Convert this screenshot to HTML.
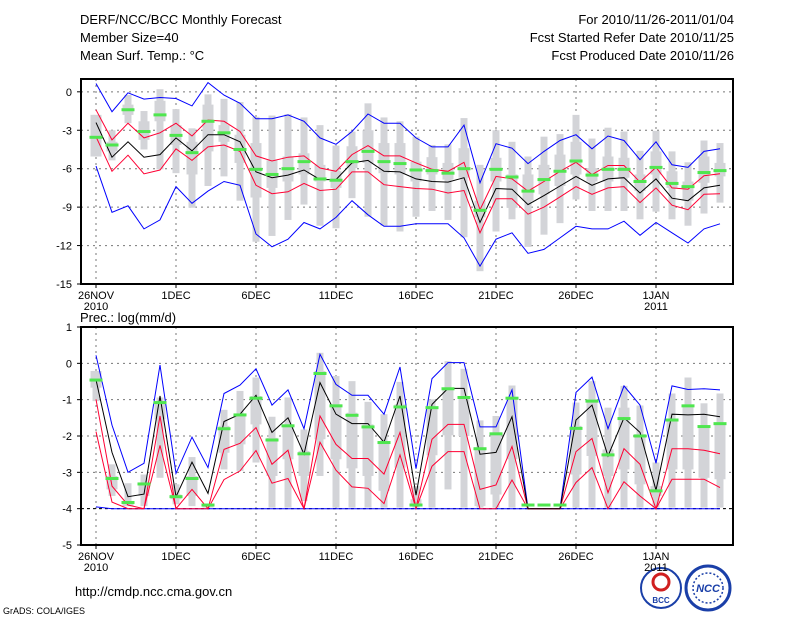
<!DOCTYPE html>
<html><head><meta charset="utf-8"><style>
body{margin:0;background:#fff;}
svg{display:block;font-family:"Liberation Sans",sans-serif;}
</style></head><body>
<svg id="chart" width="800" height="618" viewBox="0 0 800 618" xmlns="http://www.w3.org/2000/svg">
<rect width="800" height="618" fill="#fff"/>
<g id="hdr" font-size="13" fill="#000">
<text x="80" y="24">DERF/NCC/BCC Monthly Forecast</text>
<text x="80" y="42">Member Size=40</text>
<text x="80" y="60">Mean Surf. Temp.: °C</text>
<text x="734" y="24" text-anchor="end">For 2010/11/26-2011/01/04</text>
<text x="734" y="42" text-anchor="end">Fcst Started Refer Date 2010/11/25</text>
<text x="734" y="60" text-anchor="end">Fcst Produced Date 2010/11/26</text>
<text x="80" y="322">Prec.: log(mm/d)</text>
<text x="75" y="596">http://cmdp.ncc.cma.gov.cn</text>
<text x="3" y="614" font-size="9">GrADS: COLA/IGES</text>
</g>
<g>
<circle cx="661" cy="588" r="20" fill="#fff" stroke="#1a3fa8" stroke-width="2"/>
<circle cx="661" cy="582" r="8" fill="none" stroke="#d02020" stroke-width="3"/>
<text x="661" y="603" font-size="8" font-weight="bold" text-anchor="middle" fill="#1a3fa8">BCC</text>
</g>
<g>
<circle cx="708" cy="588" r="22" fill="#fff" stroke="#1a3fa8" stroke-width="3"/>
<circle cx="708" cy="588" r="15" fill="none" stroke="#1a3fa8" stroke-width="1.5" stroke-dasharray="2 2"/>
<text x="708" y="592" font-size="11" font-style="italic" font-weight="bold" text-anchor="middle" fill="#1a3fa8">NCC</text>
</g>
</svg>
<script>
// ---- temperature panel data ----
const days = 40;
const tMax = [0.65,-1.55,-0.08,-0.57,-0.44,-0.52,-1.1,0.72,-0.26,-0.9,-2.1,-2.1,-1.8,-2.3,-3.6,-4.1,-3.1,-1.73,-2.45,-2.45,-3.6,-4.3,-4.3,-2.6,-7.1,-4.05,-4.4,-5.6,-4.65,-3.8,-3.35,-4.45,-3.45,-3.8,-5.3,-3.9,-5.7,-5.9,-4.65,-4.45];
const tMin = [-5.8,-9.4,-8.9,-10.7,-10,-7.4,-8.7,-7.75,-7,-7.3,-11.1,-12.1,-11.5,-10.2,-10.7,-9.8,-8.5,-9.6,-10.5,-10.5,-10.3,-10.3,-10.3,-11.4,-13.6,-11.5,-11,-12.6,-12.3,-11.4,-10.5,-10.7,-10.7,-10.1,-11.2,-10.2,-11,-11.8,-10.7,-10.3];
const tMean = [-2.4,-5.1,-3.9,-5.1,-4.9,-3.6,-4.6,-3.35,-3.35,-3.9,-6.25,-6.7,-6.5,-6.1,-6.85,-6.85,-5.55,-5.35,-6.2,-6.25,-6.8,-7,-7.05,-6.7,-10.2,-7.55,-7.6,-8.8,-8.1,-7.35,-6.6,-7.3,-6.8,-6.7,-7.9,-6.8,-8.3,-8.5,-7.5,-7.3];
const tUp = [-1.4,-3.75,-2.45,-3.6,-3.2,-2.45,-3.45,-2.2,-2.3,-3.1,-5,-5.4,-5.1,-5,-5.95,-6.2,-4.9,-4.2,-5,-5,-5.55,-6.05,-6.2,-5.5,-9.2,-6.6,-6.8,-7.75,-7,-6.2,-5.5,-6.45,-5.75,-5.75,-7.05,-5.9,-7.5,-7.6,-6.55,-6.4];
const tLo = [-3.5,-6.2,-4.95,-6.4,-6.1,-4.45,-5.35,-4.3,-4.15,-4.65,-7.3,-7.95,-7.8,-7.15,-7.7,-7.6,-6.25,-6.25,-7.25,-7.4,-7.55,-7.6,-7.9,-7.7,-11,-8.35,-8.35,-9.55,-9,-8.2,-7.4,-8,-7.5,-7.4,-8.65,-7.5,-8.85,-9.2,-8,-7.95];
const tObs = [-3.55,-4.15,-1.4,-3.1,-1.8,-3.4,-4.75,-2.3,-3.2,-4.5,-6.05,-6.45,-6,-5.45,-6.8,-6.9,-5.45,-4.65,-5.45,-5.6,-6.1,-6.15,-6.35,-6,-9.25,-6.05,-6.65,-7.75,-6.85,-6.2,-5.4,-6.5,-6.05,-6.05,-7,-5.9,-7.15,-7.4,-6.3,-6.15];
const tBoxHi = [-1.8,-3,-0.25,-1.5,0.2,-1.35,-2.85,-0.2,-0.55,-0.8,-1.95,-1.85,-1.75,-2,-2.6,-4.2,-3.1,-0.9,-2,-2.3,-3.5,-4.15,-4.1,-2.05,-5.7,-3,-3.9,-5.05,-3.5,-3.3,-1.8,-3.65,-2.8,-3.1,-4.6,-3.05,-4.65,-5.5,-3.8,-4];
const tQHi = [-1.8,-3.9,-1,-2.3,-0.7,-2.6,-3.9,-1,-2.6,-3.35,-4,-5.35,-5.05,-4.8,-5.7,-6.2,-4.25,-3,-4,-4,-5.45,-5.1,-5.55,-4.4,-8.5,-5.15,-6.45,-6.45,-5.7,-4.9,-3.9,-5.95,-5.05,-5.15,-6.45,-4.65,-6.2,-7,-5.05,-5.55];
const tQLo = [-5.05,-4.65,-1.8,-3.75,-2.3,-4.15,-6.45,-4.65,-3.9,-5.55,-8.25,-7.5,-7,-6.45,-7,-7.5,-5.95,-5.55,-6.35,-6.45,-7,-6.45,-6.85,-6.7,-9.8,-7,-9.05,-8.5,-8,-7.35,-6.45,-7,-7,-6.7,-7.75,-6.45,-7.5,-8.5,-7.1,-6.6];
const tBoxLo = [-5.05,-5.35,-2.45,-4.5,-6.05,-6.35,-9.05,-7.35,-6.6,-8.5,-11.7,-11.25,-10,-8.8,-10.45,-10.65,-8.3,-9.75,-10.45,-10.9,-9.75,-9.3,-10,-11.35,-14,-10.9,-9.95,-12.1,-11.15,-10.25,-8.4,-9.3,-9.3,-9.3,-9.95,-9.35,-9.95,-10.45,-9.5,-8.65];
const tTicks = [0,-3,-6,-9,-12,-15];
// ---- precipitation panel data ----
const pMax = [0.22,-1.7,-3.0,-2.75,-0.05,-3.03,-2.03,-2.87,-0.83,-0.6,-0.15,-1.15,-0.73,-1.8,0.25,-0.58,-0.88,-0.88,-1.4,-0.1,-2.9,-0.42,0.02,0.02,-1.75,-1.75,-0.73,-4,-4,-4,-0.8,-0.38,-1.8,-0.62,-1.15,-2.75,-0.62,-0.72,-0.7,-0.73];
const pMean = [-0.45,-2.45,-3.67,-3.6,-0.9,-3.67,-2.72,-3.58,-1.6,-1.4,-0.88,-1.9,-1.5,-2.5,-0.53,-1.4,-1.66,-1.66,-2.17,-0.9,-3.63,-1.13,-0.69,-0.69,-2.5,-2.45,-1.47,-4,-4,-4,-1.56,-1.15,-2.55,-1.5,-1.9,-3.49,-1.4,-1.42,-1.4,-1.47];
const pUp = [-0.99,-3.38,-3.9,-4,-1.45,-4,-3.47,-4,-2.37,-2.2,-1.77,-2.78,-2.39,-4,-1.45,-2.23,-2.62,-2.62,-3.05,-1.9,-3.97,-2.09,-1.68,-1.68,-3.47,-3.35,-2.29,-4,-4,-4,-2.43,-2.07,-3.56,-2.35,-2.78,-4,-2.35,-2.35,-2.39,-2.49];
const pLo = [-1.88,-3.82,-4,-4,-2.26,-4,-4,-4,-3.2,-2.96,-2.4,-3.3,-3.17,-4,-2.17,-2.94,-3.4,-3.44,-3.86,-2.52,-4,-2.83,-2.43,-2.43,-4,-4,-3.21,-4,-4,-4,-3.28,-2.87,-4,-3.26,-3.65,-4,-3.19,-3.19,-3.19,-3.42];
const pMin = [-3.95,-4,-4,-4,-4,-4,-4,-4,-4,-4,-4,-4,-4,-4,-4,-4,-4,-4,-4,-4,-4,-4,-4,-4,-4,-4,-4,-4,-4,-4,-4,-4,-4,-4,-4,-4,-4,-4,-4,-4];
const pObs = [-0.46,-3.17,-3.83,-3.32,-1.08,-3.67,-3.17,-3.9,-1.8,-1.42,-0.96,-2.11,-1.72,-2.49,-0.28,-1.17,-1.43,-1.75,-2.18,-1.2,-3.9,-1.22,-0.7,-0.94,-2.35,-1.94,-0.96,-3.9,-3.9,-3.9,-1.79,-1.04,-2.52,-1.52,-2,-3.51,-1.56,-1.17,-1.74,-1.66];
const pBoxHi = [-0.21,-2.78,-3.3,-3.06,-0.94,-3.33,-2.58,-3.88,-1.28,-0.76,-0.39,-1.47,-0.94,-1.82,0.29,-0.35,-0.49,-1.06,-1.4,-0.51,-3.38,-0.99,0.06,-0.15,-1.57,-1.45,-0.61,null,null,null,-1.08,-0.49,-1.22,-0.62,-1.16,-2.73,-0.83,-0.39,-1.1,-0.83];
const pQHi = [-0.21,-3.1,-3.79,-3.28,-1.04,-3.61,-3.1,-3.88,-1.72,-1.4,-0.9,-2.05,-1.68,-2.41,-0.21,-1.13,-1.36,-1.68,-2.14,-1.13,-3.74,-1.22,-0.67,-0.94,-2.32,-1.91,-0.94,null,null,null,-1.72,-0.99,-2.37,-1.22,-1.95,-3.38,-1.54,-1.17,-1.72,-1.63];
const pQLo = [-0.67,-3.47,-3.93,-3.65,-1.54,-3.74,-3.65,-3.97,-2.46,-2.23,-1.68,-3.1,-2.64,-3.1,-2.09,-2.64,-2.89,-3.1,-3.51,-2.87,-3.93,-2.53,-1.98,-2.0,-3.93,-3.61,-2.64,null,null,null,-3.06,-2.55,-3.1,-2.92,-3.33,-3.65,-2.92,-2.92,-3.15,-3.19];
const pBoxLo = [-1.04,-3.65,-3.93,-3.93,-3.15,-3.88,-3.93,-3.97,-2.92,-2.96,-2.73,-3.97,-3.97,-3.79,-3.1,-3.97,-3.97,-3.97,-3.97,-3.97,-3.97,-3.97,-3.47,-3.97,-3.97,-3.97,-3.97,null,null,null,-3.97,-3.97,-3.97,-3.97,-3.97,-3.97,-3.97,-3.97,-3.97,-3.97];
const pTicks = [1,0,-1,-2,-3,-4,-5];
const xTickDays = [0,5,10,15,20,25,30,35];
const xTickLabels = ["26NOV","1DEC","6DEC","11DEC","16DEC","21DEC","26DEC","1JAN"];
const xTickYears = ["2010","","","","","","","2011"];

const NS = "http://www.w3.org/2000/svg";
const svg = document.getElementById('chart');
function mk(tag, attrs, parent){const e=document.createElementNS(NS,tag);for(const k in attrs)e.setAttribute(k,attrs[k]);(parent||svg).appendChild(e);return e;}
const L=81,R=733;
const xS = d => 96 + d*16;

function panel(name, top, bot, vTop, vBot, ticks, series, boxes, obs, extraDash){
  const yS = v => top + (vTop - v)/(vTop - vBot)*(bot-top);
  const g = mk('g',{});
  
  
  // grid
  ticks.forEach(t=>{
    if(t<vTop && t>vBot){const ln=mk('line',{x1:L,x2:R,y1:yS(t),y2:yS(t),stroke:'#777','stroke-dasharray':'2 4','stroke-width':1},g);
    
    }
    const tx=mk('text',{x:L-9,y:yS(t)+4,'font-size':11,'text-anchor':'end'},g);tx.textContent=t;
    
    
    mk('line',{x1:L-4,x2:L,y1:yS(t),y2:yS(t),stroke:'#000'},g);
  });
  xTickDays.forEach((d,i)=>{
    const ln=mk('line',{x1:xS(d),x2:xS(d),y1:top,y2:bot,stroke:'#777','stroke-dasharray':'2 4'},g);
    
    
    mk('line',{x1:xS(d),x2:xS(d),y1:bot,y2:bot+4,stroke:'#000'},g);
    const tx=mk('text',{x:xS(d),y:bot+15,'font-size':11,'text-anchor':'middle'},g);tx.textContent=xTickLabels[i];
    
    
    if(xTickYears[i]){const ty=mk('text',{x:xS(d),y:bot+26,'font-size':11,'text-anchor':'middle'},g);ty.textContent=xTickYears[i];
    
    }
  });
  // boxes
  const [hi,qh,ql,lo]=boxes;
  for(let i=0;i<days;i++){
    if(hi[i]===null) continue;
    const w=mk('rect',{x:xS(i)-3.5,y:yS(hi[i]),width:7,height:Math.max(1,yS(lo[i])-yS(hi[i])),fill:'#d3d4d8'},g);
    
    
    const b=mk('rect',{x:xS(i)-5.5,y:yS(qh[i]),width:11,height:Math.max(1,yS(ql[i])-yS(qh[i])),fill:'#d3d4d8'},g);
    
    
  }
  if(extraDash){const dl=mk('line',{x1:L,x2:R,y1:yS(extraDash),y2:yS(extraDash),stroke:'#000','stroke-dasharray':'3 3'},g);
    
    }
  series.forEach(s=>{
    const pts=s.data.map((v,i)=>xS(i)+','+yS(v).toFixed(1)).join(' ');
    const p=mk('polyline',{points:pts,fill:'none',stroke:s.color,'stroke-width':1},g);
    
    
  });
  obs.forEach((v,i)=>{
    const r=mk('rect',{x:xS(i)-6.5,y:yS(v)-1.5,width:13,height:3,fill:'#4fe64f'},g);
    
    
  });
  const fr=mk('rect',{x:L,y:top,width:R-L,height:bot-top,fill:'none',stroke:'#000','stroke-width':2},g);
  
  
}
panel('temperature-panel',79,284,1,-15,tTicks,
  [{name:'max-line',data:tMax,color:'#0000ff'},{name:'min-line',data:tMin,color:'#0000ff'},
   {name:'upper-line',data:tUp,color:'#ff0033'},{name:'lower-line',data:tLo,color:'#ff0033'},
   {name:'mean-line',data:tMean,color:'#000'}],
  [tBoxHi,tQHi,tQLo,tBoxLo],tObs,null);
panel('precipitation-panel',327,545,1,-5,pTicks,
  [{name:'min-line',data:pMin,color:'#0000ff'},{name:'max-line',data:pMax,color:'#0000ff'},
   {name:'upper-line',data:pUp,color:'#ff0033'},{name:'lower-line',data:pLo,color:'#ff0033'},
   {name:'mean-line',data:pMean,color:'#000'}],
  [pBoxHi,pQHi,pQLo,pBoxLo],pObs,-4);
</script>
</body></html>
